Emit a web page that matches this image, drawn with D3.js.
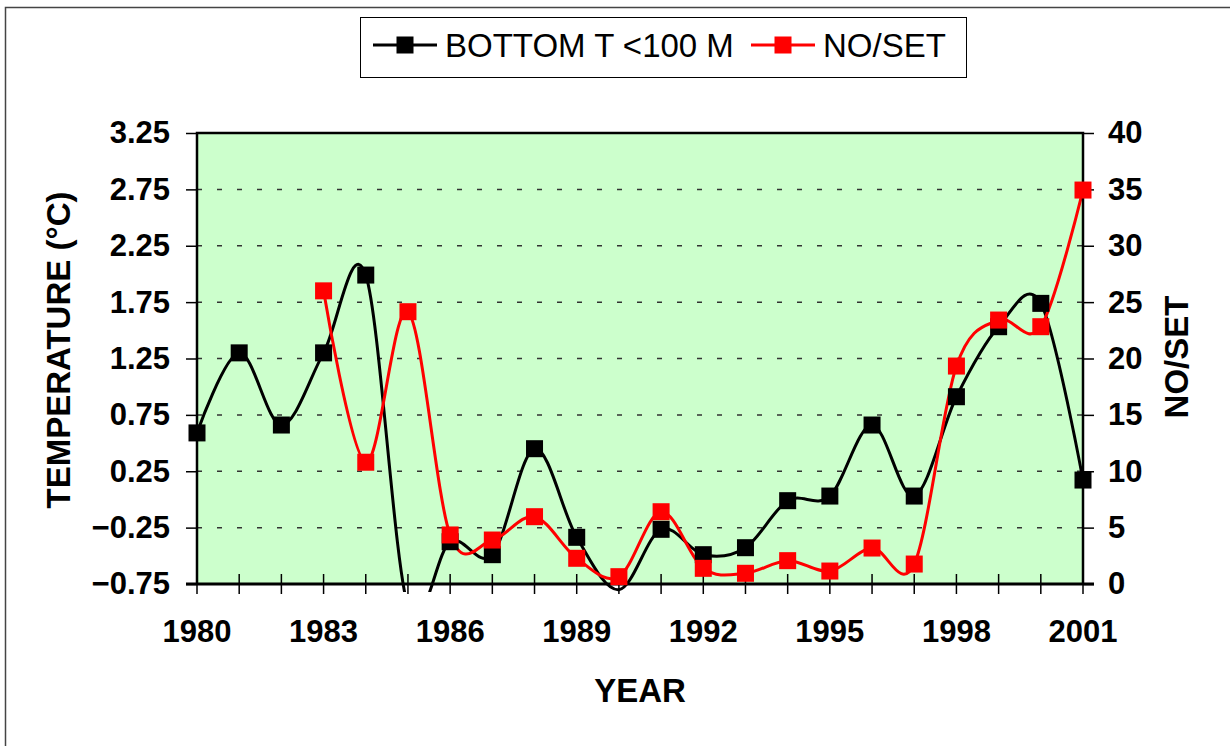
<!DOCTYPE html>
<html>
<head>
<meta charset="UTF-8" />
<script src="https://d3js.org/d3.v7.min.js"></script>
<style>
  body { margin: 0; background: #fff; }
  svg { display: block; font-family: "Liberation Sans", Arial, sans-serif; }
  .tick-label { font-size: 31px; font-weight: bold; fill: #000; }
  .axis-title { font-size: 33px; font-weight: bold; fill: #000; }
  .legend-text { font-size: 33px; fill: #000; }
</style>
</head>
<body>
<svg width="1230" height="746"></svg>
<script>
  // data
  const years = [1980, 1981, 1982, 1983, 1984, 1985, 1986, 1987, 1988, 1989, 1990,
                 1991, 1992, 1993, 1994, 1995, 1996, 1997, 1998, 1999, 2000, 2001];
  const yearLabels = [1980, 1983, 1986, 1989, 1992, 1995, 1998, 2001];
  const bottomTemp = [0.59, 1.30, 0.66, 1.30, 1.99, -0.95, -0.375, -0.49, 0.45, -0.336, -0.80,
                      -0.265, -0.49, -0.428, -0.011, 0.03, 0.66, 0.03, 0.911, 1.532, 1.739, 0.172];
  const noSetYears = [1983, 1984, 1985, 1986, 1987, 1988, 1989, 1990, 1991, 1992,
                      1993, 1994, 1995, 1996, 1997, 1998, 1999, 2000, 2001];
  const noSet = [26.0, 10.8, 24.15, 4.35, 3.9, 5.97, 2.28, 0.65, 6.41, 1.39,
                 0.95, 2.07, 1.15, 3.19, 1.77, 19.33, 23.41, 22.82, 34.94];
  const tempTicks = [-0.75, -0.25, 0.25, 0.75, 1.25, 1.75, 2.25, 2.75, 3.25];
  const noSetTicks = [0, 5, 10, 15, 20, 25, 30, 35, 40];

  const svg = d3.select("svg");
  const plot = {left: 197, right: 1083, top: 133, bottom: 584};

  const x = d3.scaleLinear().domain([1980, 2001]).range([plot.left, plot.right]);
  const yT = d3.scaleLinear().domain([-0.75, 3.25]).range([plot.bottom, plot.top]);
  const yN = d3.scaleLinear().domain([0, 40]).range([plot.bottom, plot.top]);

  // outer chart frame (runs off the right/bottom edges)
  svg.append("rect")
     .attr("x", 5.5).attr("y", 7.5)
     .attr("width", 1250).attr("height", 770)
     .attr("fill", "#fff").attr("stroke", "#444").attr("stroke-width", 1.5);

  // plot background
  svg.append("rect")
     .attr("x", plot.left).attr("y", plot.top)
     .attr("width", plot.right - plot.left).attr("height", plot.bottom - plot.top)
     .attr("fill", "#ccffcc");

  // gridlines
  svg.append("g")
     .selectAll("line")
     .data(tempTicks.filter(t => t > -0.75 && t < 3.25))
     .join("line")
     .attr("x1", plot.left).attr("x2", plot.right)
     .attr("y1", d => yT(d)).attr("y2", d => yT(d))
     .attr("stroke", "#333").attr("stroke-width", 1.5)
     .attr("stroke-dasharray", "5,15");

  // left axis
  const leftAxis = svg.append("g")
     .attr("transform", `translate(${plot.left},0)`)
     .call(d3.axisLeft(yT).tickValues(tempTicks).tickSize(11).tickPadding(16)
           .tickFormat(d3.format(".2f")));
  leftAxis.select(".domain").remove();
  leftAxis.selectAll("line").attr("stroke", "#000").attr("stroke-width", 1.5);
  leftAxis.selectAll("text").attr("class", "tick-label").attr("font-size", null).attr("font-family", null);

  // right axis
  const rightAxis = svg.append("g")
     .attr("transform", `translate(${plot.right},0)`)
     .call(d3.axisRight(yN).tickValues(noSetTicks).tickSize(11).tickPadding(14));
  rightAxis.select(".domain").remove();
  rightAxis.selectAll("line").attr("stroke", "#000").attr("stroke-width", 1.5);
  rightAxis.selectAll("text").attr("class", "tick-label").attr("font-size", null).attr("font-family", null);

  // bottom axis: ticks every year, crossing the axis line
  const xAxis = svg.append("g").attr("class", "x-ticks");
  xAxis.selectAll("line")
     .data(years)
     .join("line")
     .attr("x1", d => x(d)).attr("x2", d => x(d))
     .attr("y1", plot.bottom - 10).attr("y2", plot.bottom + 10)
     .attr("stroke", "#000").attr("stroke-width", 1.5);
  xAxis.selectAll("text")
     .data(yearLabels)
     .join("text")
     .attr("class", "tick-label")
     .attr("x", d => x(d)).attr("y", 642)
     .attr("text-anchor", "middle")
     .text(d => d);

  // clip (Excel lets lines run a few pixels past the bottom)
  svg.append("clipPath").attr("id", "clip")
     .append("rect")
     .attr("x", plot.left).attr("y", plot.top)
     .attr("width", plot.right - plot.left).attr("height", plot.bottom - plot.top + 8);

  const curve = d3.curveCardinal.tension(0);

  const tempData = years.map((yr, i) => ({yr, v: bottomTemp[i]}));
  const noSetData = noSetYears.map((yr, i) => ({yr, v: noSet[i]}));

  const series = [
    {data: tempData, y: yT, color: "#000000", domain: [-0.75, 3.25]},
    {data: noSetData, y: yN, color: "#ff0000", domain: [0, 40]}
  ];

  series.forEach(s => {
    svg.append("path")
       .datum(s.data)
       .attr("clip-path", "url(#clip)")
       .attr("fill", "none")
       .attr("stroke", s.color)
       .attr("stroke-width", 3)
       .attr("d", d3.line().x(d => x(d.yr)).y(d => s.y(d.v)).curve(curve));
  });

  // plot frame
  svg.append("path")
     .attr("d", `M${plot.left},${plot.bottom}V${plot.top}H${plot.right}V${plot.bottom}`)
     .attr("fill", "none").attr("stroke", "#000").attr("stroke-width", 2.5);
  svg.append("line")
     .attr("x1", plot.left - 11).attr("x2", plot.right + 11)
     .attr("y1", plot.bottom).attr("y2", plot.bottom)
     .attr("stroke", "#000").attr("stroke-width", 3);

  // markers on top
  series.forEach(s => {
    svg.append("g")
       .selectAll("rect")
       .data(s.data.filter(d => d.v >= s.domain[0] && d.v <= s.domain[1]))
       .join("rect")
       .attr("x", d => x(d.yr) - 8.5)
       .attr("y", d => s.y(d.v) - 8.5)
       .attr("width", 17).attr("height", 17)
       .attr("fill", s.color);
  });

  // axis titles
  svg.append("text")
     .attr("class", "axis-title")
     .attr("transform", "translate(70,350) rotate(-90)")
     .attr("text-anchor", "middle")
     .text("TEMPERATURE (°C)");
  svg.append("text")
     .attr("class", "axis-title")
     .attr("transform", "translate(1188,357) rotate(-90)")
     .attr("text-anchor", "middle")
     .text("NO/SET");
  svg.append("text")
     .attr("class", "axis-title")
     .attr("x", 640).attr("y", 702)
     .attr("text-anchor", "middle")
     .text("YEAR");

  // legend
  const legend = svg.append("g");
  legend.append("rect")
     .attr("x", 360.5).attr("y", 17.5).attr("width", 606).attr("height", 60)
     .attr("fill", "#fff").attr("stroke", "#000").attr("stroke-width", 1);
  const legendItems = [
    {label: "BOTTOM T <100 M", color: "#000000", x0: 373},
    {label: "NO/SET", color: "#ff0000", x0: 751}
  ];
  legendItems.forEach(it => {
    legend.append("line")
       .attr("x1", it.x0).attr("x2", it.x0 + 64)
       .attr("y1", 45).attr("y2", 45)
       .attr("stroke", it.color).attr("stroke-width", 3);
    legend.append("rect")
       .attr("x", it.x0 + 32 - 8.5).attr("y", 45 - 8.5)
       .attr("width", 17).attr("height", 17)
       .attr("fill", it.color);
    legend.append("text")
       .attr("class", "legend-text")
       .attr("x", it.x0 + 72).attr("y", 57)
       .text(it.label);
  });
</script>
</body>
</html>
